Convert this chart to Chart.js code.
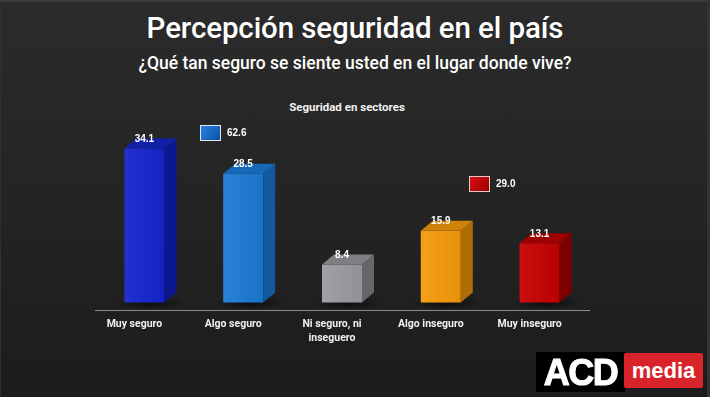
<!DOCTYPE html>
<html>
<head>
<meta charset="utf-8">
<script src="https://cdn.jsdelivr.net/npm/chart.js@4.4.1/dist/chart.umd.min.js"></script>
<style>
  html, body { margin: 0; padding: 0; }
  body {
    width: 710px; height: 397px; overflow: hidden; position: relative;
    background: linear-gradient(180deg, #2b2b2b 0%, #252525 45%, #1c1c1c 100%);
    font-family: Roboto, "Liberation Sans", sans-serif;
  }
  #marco { position: absolute; left: 0; top: 0; width: 706px; height: 395px; border-top: 2px solid #3a3a3a; border-right: 3px solid #333; border-left: 1px solid #303030; }
  #grafico { position: absolute; left: 0; top: 0; }
  .texto { position: absolute; left: 0; width: 710px; text-align: center; color: #fff; white-space: nowrap; }
  #titulo { top: 11px; font-size: 29.5px; font-weight: 500; letter-spacing: -0.1px; }
  #subtitulo { top: 53px; font-size: 17.5px; font-weight: 500; }
  #seccion { top: 100px; left: -8px; font-size: 11.5px; font-weight: 700; color: #f2f2f2; }
  #logo-acd { position: absolute; left: 536px; top: 352px; width: 89px; height: 40px; background: #000; color: #fff;
    font-family: "Liberation Sans", Arial, sans-serif; font-weight: 700; font-size: 36px; line-height: 41px; text-align: center; letter-spacing: -1.5px;
    -webkit-text-stroke: 1px #fff; }
  #logo-media { position: absolute; left: 624px; top: 353px; width: 79px; height: 35px; background: #d9232b; color: #fff; border-radius: 2px;
    font-family: "Liberation Sans", Arial, sans-serif; font-weight: 700; font-size: 22px; line-height: 35px; text-align: center; }
</style>
</head>
<body>
<div id="marco"></div>
<div class="texto" id="titulo">Percepción seguridad en el país</div>
<div class="texto" id="subtitulo">¿Qué tan seguro se siente usted en el lugar donde vive?</div>
<div class="texto" id="seccion">Seguridad en sectores</div>
<canvas id="grafico" width="710" height="397"></canvas>
<div id="logo-acd">ACD</div>
<div id="logo-media">media</div>
<script>
// Datos del gráfico
const categorias = ['Muy seguro', 'Algo seguro', ['Ni seguro, ni', 'inseguero'], 'Algo inseguro', 'Muy inseguro'];
const valores = [34.1, 28.5, 8.4, 15.9, 13.1];
const totalesLeyenda = ['62.6', '29.0'];

// Colores de cada barra: frente, lado y tapa
const coloresFrente = ['#1424cc', '#1c7ad4', '#9b9b9f', '#f59a0a', '#c60000'];
const coloresLado = ['#0c1890', '#1259a0', '#66666a', '#b06d06', '#7c0000'];
const coloresTapa = ['#1020a8', '#1768b8', '#7f7f83', '#cf8208', '#9c0000'];

const fondo = 12; // profundidad en x
const alto3d = 10; // profundidad en y

// Plugin para dibujar el efecto 3D, etiquetas y leyenda
const plugin3D = {
  id: 'barras3d',
  beforeDatasetsDraw(chart) {
    const ctx = chart.ctx;
    const meta = chart.getDatasetMeta(0);
    meta.data.forEach((barra) => {
      const mitad = barra.width / 2;
      const cx = barra.x + fondo / 2;
      const g = ctx.createRadialGradient(cx, barra.base, 2, cx, barra.base, mitad + 14);
      g.addColorStop(0, 'rgba(0,0,0,0.55)');
      g.addColorStop(1, 'rgba(0,0,0,0)');
      ctx.save();
      ctx.translate(0, barra.base);
      ctx.scale(1, 0.22);
      ctx.translate(0, -barra.base);
      ctx.fillStyle = g;
      ctx.beginPath();
      ctx.arc(cx, barra.base, mitad + 14, 0, Math.PI * 2);
      ctx.fill();
      ctx.restore();
    });
  },
  afterDatasetsDraw(chart) {
    const ctx = chart.ctx;
    const meta = chart.getDatasetMeta(0);
    meta.data.forEach((barra, i) => {
      const izq = barra.x - barra.width / 2;
      const der = barra.x + barra.width / 2;
      const arriba = barra.y;
      const base = barra.base;

      // cara lateral
      ctx.fillStyle = coloresLado[i];
      ctx.beginPath();
      ctx.moveTo(der, arriba);
      ctx.lineTo(der + fondo, arriba - alto3d);
      ctx.lineTo(der + fondo, base - alto3d);
      ctx.lineTo(der, base);
      ctx.closePath();
      ctx.fill();

      // tapa
      ctx.fillStyle = coloresTapa[i];
      ctx.beginPath();
      ctx.moveTo(izq, arriba);
      ctx.lineTo(izq + fondo, arriba - alto3d);
      ctx.lineTo(der + fondo, arriba - alto3d);
      ctx.lineTo(der, arriba);
      ctx.closePath();
      ctx.fill();

      // brillo suave en el frente
      const brillo = ctx.createLinearGradient(izq, 0, der, 0);
      brillo.addColorStop(0, 'rgba(255,255,255,0.06)');
      brillo.addColorStop(1, 'rgba(0,0,0,0.06)');
      ctx.fillStyle = brillo;
      ctx.fillRect(izq, arriba, barra.width, base - arriba);

      // etiqueta del valor
      ctx.fillStyle = '#ffffff';
      ctx.font = 'bold 10px "Liberation Sans", Arial, sans-serif';
      ctx.textAlign = 'center';
      ctx.textBaseline = 'middle';
      ctx.fillText(valores[i].toFixed(1), barra.x, arriba - 9);
    });

    // leyenda con totales
    const cajas = [
      { x: 200, y: 125, c1: '#2a86e0', c2: '#0f4fa8', borde: '#dfe8f5' },
      { x: 469, y: 176, c1: '#e0101a', c2: '#9a0000', borde: '#f0c8c8' },
    ];
    cajas.forEach((caja, i) => {
      const g = ctx.createLinearGradient(caja.x, caja.y, caja.x + 20, caja.y + 15);
      g.addColorStop(0, caja.c1);
      g.addColorStop(1, caja.c2);
      ctx.fillStyle = g;
      ctx.fillRect(caja.x, caja.y, 20, 15);
      ctx.strokeStyle = caja.borde;
      ctx.lineWidth = 1;
      ctx.strokeRect(caja.x + 0.5, caja.y + 0.5, 20, 15);
      ctx.fillStyle = '#ffffff';
      ctx.font = 'bold 10px "Liberation Sans", Arial, sans-serif';
      ctx.textAlign = 'left';
      ctx.textBaseline = 'middle';
      ctx.fillText(totalesLeyenda[i], caja.x + 27, caja.y + 8);
    });
  }
};

const ctx = document.getElementById('grafico').getContext('2d');

new Chart(ctx, {
  type: 'bar',
  data: {
    labels: categorias,
    datasets: [{
      data: valores,
      backgroundColor: coloresFrente,
      borderWidth: 0,
      categoryPercentage: 1,
      barPercentage: 0.405,
    }]
  },
  options: {
    responsive: false,
    animation: false,
    devicePixelRatio: 1,
    layout: { padding: { left: 95, right: 121, top: 110, bottom: 45 } },
    plugins: {
      legend: { display: false },
      title: { display: false },
      tooltip: { enabled: false },
    },
    scales: {
      x: {
        grid: { display: false, drawTicks: false },
        border: { display: true, color: '#8a8a8a', width: 1 },
        ticks: {
          color: '#f0f0f0',
          font: { family: 'Roboto', weight: 'bold', size: 10.5, lineHeight: 1.3 },
          padding: 7,
          labelOffset: -10,
          autoSkip: false,
          maxRotation: 0,
        }
      },
      y: {
        display: false,
        min: -1.8,
        max: 42.6,
      }
    }
  },
  plugins: [plugin3D]
});
</script>
</body>
</html>
